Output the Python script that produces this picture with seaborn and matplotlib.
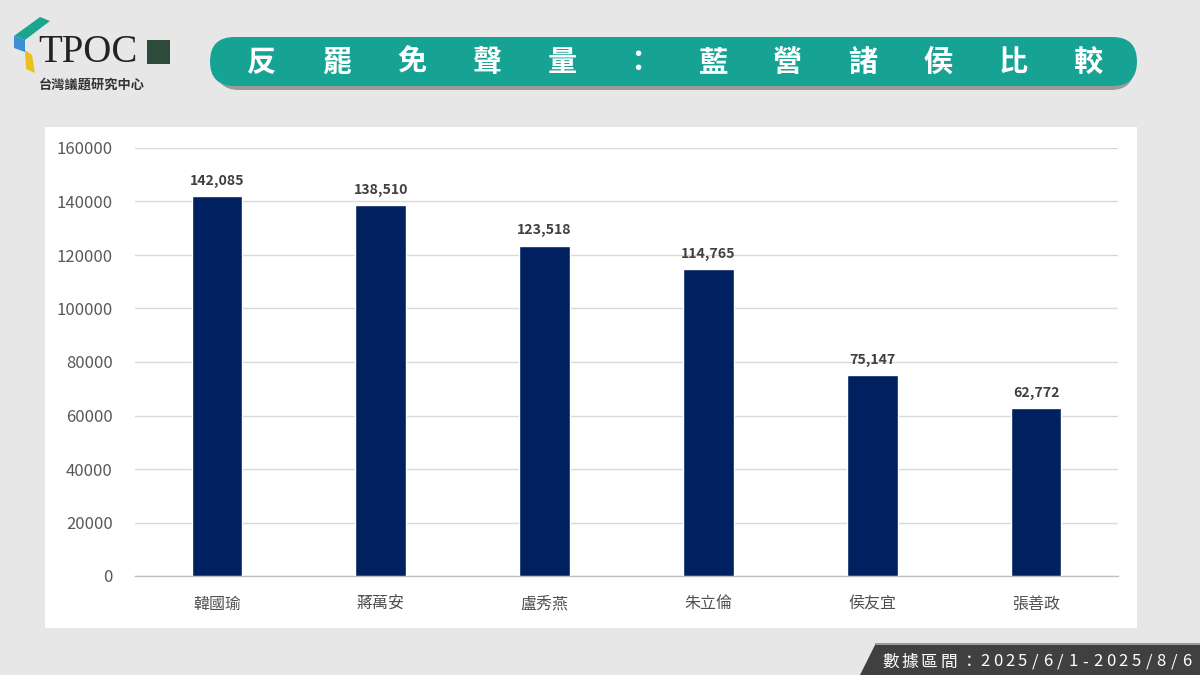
import matplotlib
matplotlib.use("Agg")
import matplotlib.pyplot as plt
import seaborn as sns
import pandas as pd
from matplotlib.patches import FancyBboxPatch, Polygon, Rectangle

names = ["韓國瑜", "蔣萬安", "盧秀燕", "朱立倫", "侯友宜", "張善政"]
volumes = [142085, 138510, 123518, 114765, 75147, 62772]
yticks = [0, 20000, 40000, 60000, 80000, 100000, 120000, 140000, 160000]
title_chars = list("反罷免聲量：藍營諸侯比較")
footer = "數據區間：2025/6/1-2025/8/6"

sns.set_theme(style="white")
plt.rcParams["font.family"] = ["Noto Sans CJK TC", "DejaVu Sans"]

BG = "#e7e7e7"
NAVY = "#002060"
TEAL = "#17a394"

fig = plt.figure(figsize=(12, 6.75), dpi=100)
fig.patch.set_facecolor(BG)
W, H = 1200, 675

def fx(x): return x / W
def fy(y): return 1 - y / H

# white panel
fig.patches.append(Rectangle((fx(45), fy(628)), fx(1137) - fx(45), fy(127) - fy(628),
                             transform=fig.transFigure, facecolor="white", edgecolor="none", zorder=-5))

ax = fig.add_axes([fx(135), fy(576), fx(1118) - fx(135), fy(148) - fy(576)])
ax.set_zorder(5)
ax.set_facecolor("white")
df = pd.DataFrame({"name": names, "volume": volumes})
sns.barplot(data=df, x="name", y="volume", color=NAVY, width=0.31, saturation=1, ax=ax, zorder=3)
ax.set_ylim(0, 160000)
ax.set_yticks(yticks)
ax.set_yticklabels([str(v) for v in yticks], color="#595959", fontsize=12)
ax.tick_params(axis="y", length=0, pad=16)
ax.tick_params(axis="x", length=0, pad=14, labelsize=11.5, labelcolor="#505050")
ax.set_xlabel("")
ax.set_ylabel("")
ax.grid(axis="y", color="#d9d9d9", linewidth=1, zorder=0)
for s in ["top", "right", "left"]:
    ax.spines[s].set_visible(False)
ax.spines["bottom"].set_color("#bfbfbf")
ax.spines["bottom"].set_linewidth(1)
ax.set_xlim(-0.5, len(names) - 0.5)
for c in ax.containers:
    ax.bar_label(c, labels=[f"{v:,}" for v in volumes], padding=6, fontsize=10.2,
                 fontweight="bold", color="#404040")

def px_pill(x0, ytop, x1, ybot, color, z):
    X0, X1 = x0 / 100, x1 / 100
    Y0, Y1 = (H - ybot) / 100, (H - ytop) / 100
    r = (Y1 - Y0) / 2
    return FancyBboxPatch((X0, Y0), X1 - X0, Y1 - Y0,
                          boxstyle=f"round,pad=0,rounding_size={r}",
                          transform=fig.dpi_scale_trans,
                          facecolor=color, edgecolor="none", zorder=z)

fig.patches.append(px_pill(216, 44, 1134, 90, "#9a9a9a", 1))
fig.patches.append(px_pill(210, 37, 1137, 86, TEAL, 2))
x0, step = 262, 75.1
for i, ch in enumerate(title_chars):
    fig.text(fx(x0 + i * step), fy(62), ch, color="white", fontsize=21, fontweight="bold",
             ha="center", va="center", zorder=3)

# footer
fig.patches.append(Polygon([(fx(875), fy(645)), (fx(1200), fy(645)), (fx(1200), fy(675)), (fx(860), fy(675))],
                           closed=True, transform=fig.transFigure, facecolor="#404040", edgecolor="none"))
fig.patches.append(Polygon([(fx(875), fy(643)), (fx(1200), fy(643)), (fx(1200), fy(645)), (fx(875), fy(645))],
                           closed=True, transform=fig.transFigure, facecolor="#9a9a9a", edgecolor="none"))
xpos = 881
for ch in footer:
    adv = 19.5 if ord(ch) > 0x2000 else 12.6
    fig.text(fx(xpos + adv / 2), fy(662), ch, color="white", fontsize=12, ha="center", va="center")
    xpos += adv

# logo
fig.patches.append(Polygon([(fx(14), fy(36)), (fx(40), fy(17)), (fx(50), fy(21)), (fx(25), fy(40))],
                           closed=True, transform=fig.transFigure, facecolor="#1aa58f", edgecolor="none"))
fig.patches.append(Polygon([(fx(14), fy(36)), (fx(25), fy(40)), (fx(25), fy(52)), (fx(14), fy(48))],
                           closed=True, transform=fig.transFigure, facecolor="#3a8fd8", edgecolor="none"))
fig.patches.append(Polygon([(fx(25), fy(50)), (fx(32), fy(55)), (fx(35), fy(73)), (fx(26), fy(69))],
                           closed=True, transform=fig.transFigure, facecolor="#e6c21a", edgecolor="none"))
fig.text(fx(38), fy(52), "TPOC", family="Liberation Serif", fontsize=28, color="#222222",
         ha="left", va="center")
fig.patches.append(Rectangle((fx(147), fy(64)), fx(170) - fx(147), fy(40) - fy(64),
                             transform=fig.transFigure, facecolor="#2d4a3a", edgecolor="none"))
fig.text(fx(92), fy(85), "台灣議題研究中心", fontsize=9.5, fontweight="bold", color="#333333",
         ha="center", va="center")

fig.savefig("out.png", dpi=100, facecolor=BG)
